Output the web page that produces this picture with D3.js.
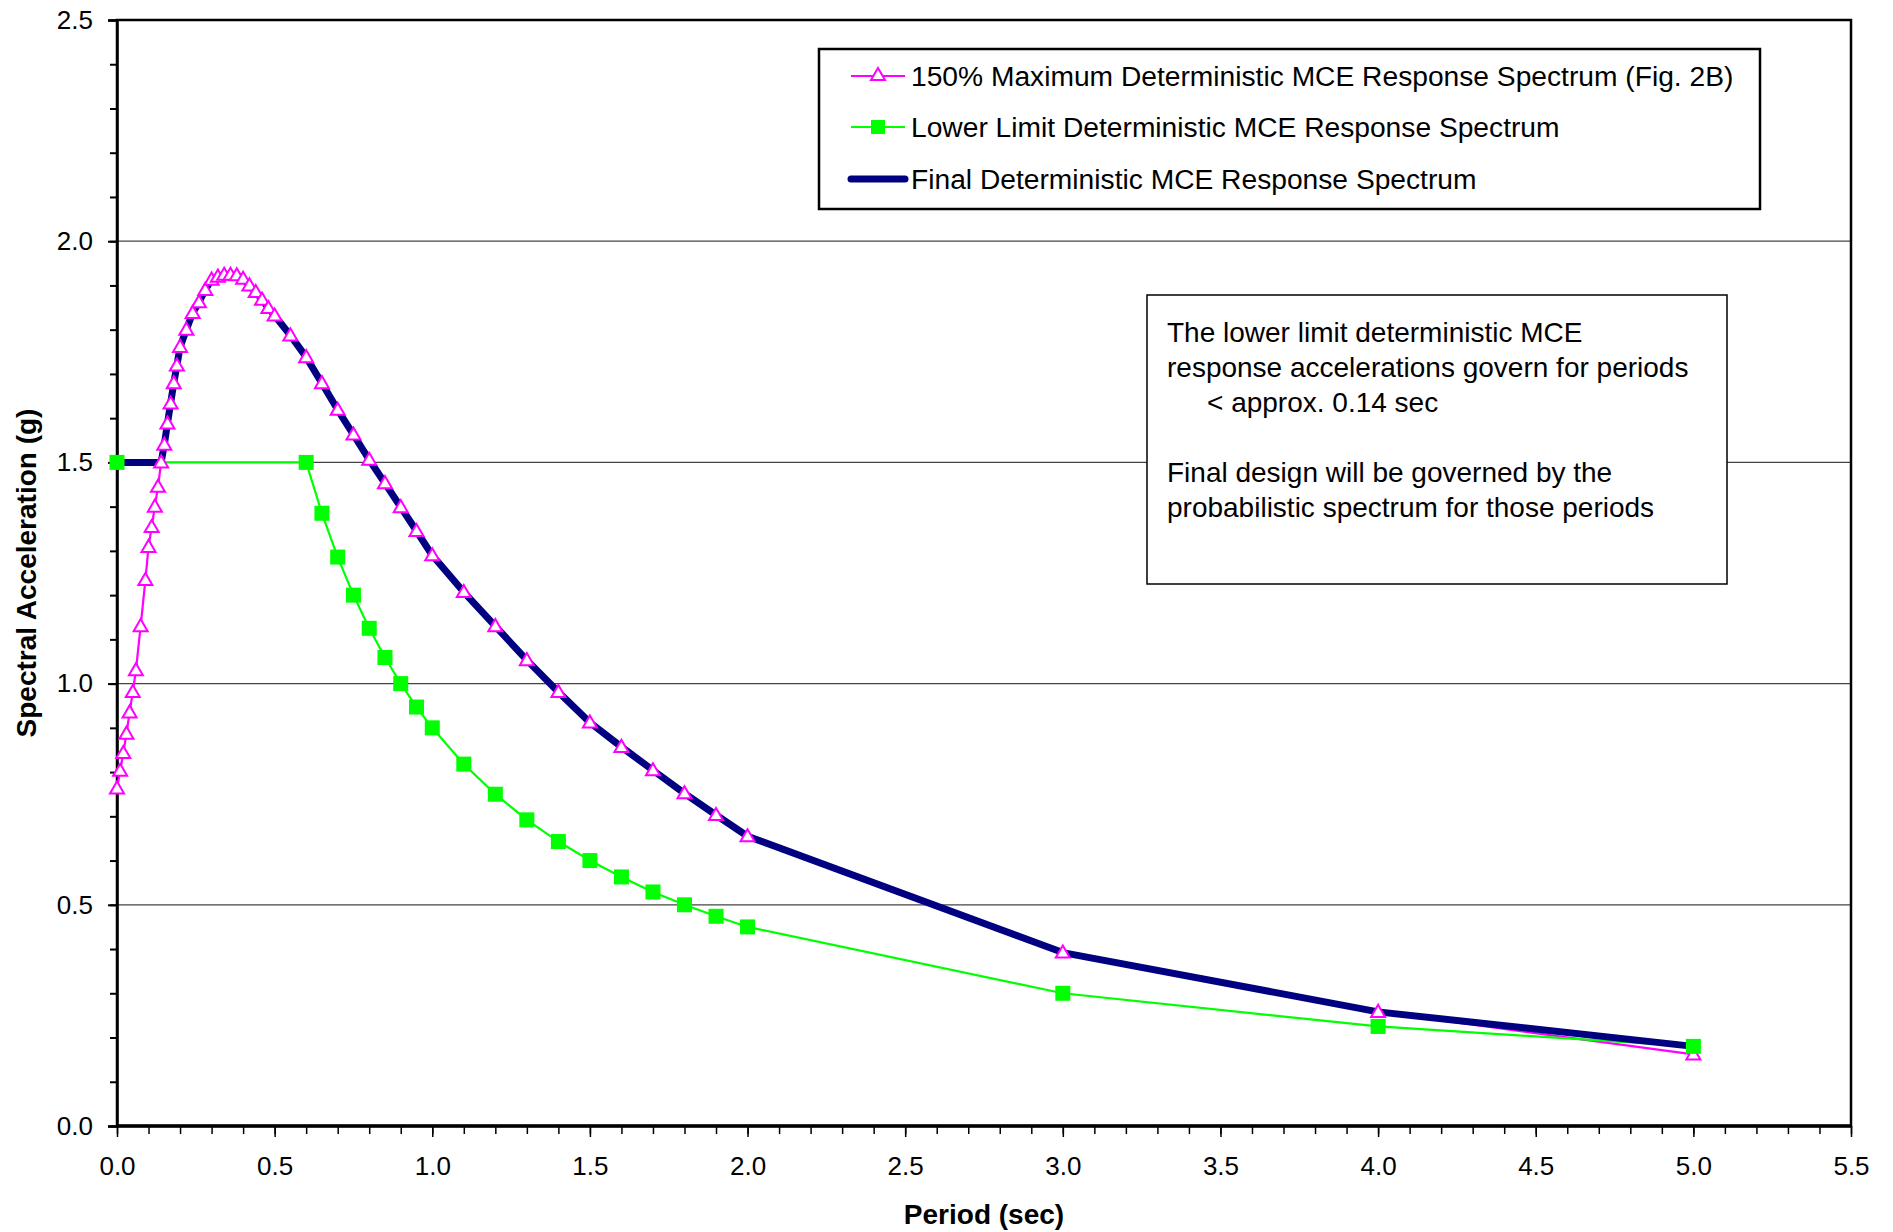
<!DOCTYPE html>
<html>
<head>
    <script src="https://cdn.jsdelivr.net/npm/d3@7"></script>
    <style>
        body { margin: 0; background: #fff; }
        #my-svg { width: 1893px; height: 1232px; font-family: "Liberation Sans", Arial, sans-serif; }
    </style>
</head>
<body>

<svg id="my-svg"></svg>

<script>
    // 150% Maximum Deterministic MCE Response Spectrum (Fig. 2B)
    const maxT = [0, 0.01, 0.02, 0.03, 0.04, 0.05, 0.06, 0.075, 0.09, 0.10, 0.11, 0.12, 0.13, 0.14, 0.15, 0.16, 0.17, 0.18, 0.19, 0.20,
        0.22, 0.24, 0.26, 0.28, 0.30, 0.32, 0.34, 0.36, 0.38, 0.40, 0.42, 0.44, 0.46, 0.48, 0.50,
        0.55, 0.60, 0.65, 0.70, 0.75, 0.80, 0.85, 0.90, 0.95, 1.0,
        1.1, 1.2, 1.3, 1.4, 1.5, 1.6, 1.7, 1.8, 1.9, 2.0, 3.0, 4.0, 5.0];
    const maxSa = [0.763, 0.803, 0.843, 0.887, 0.935, 0.981, 1.03, 1.13, 1.234, 1.309, 1.354, 1.40, 1.445, 1.50, 1.54, 1.588, 1.633, 1.679, 1.719, 1.761,
        1.80, 1.838, 1.862, 1.89, 1.913, 1.92, 1.924, 1.924, 1.923, 1.915, 1.90, 1.885, 1.868, 1.849, 1.832,
        1.787, 1.738, 1.679, 1.619, 1.563, 1.506, 1.453, 1.399, 1.345, 1.29,
        1.207, 1.13, 1.053, 0.981, 0.912, 0.857, 0.804, 0.752, 0.703, 0.655, 0.392, 0.258, 0.162];

    // Lower Limit Deterministic MCE Response Spectrum
    const lowT = [0, 0.6, 0.65, 0.7, 0.75, 0.8, 0.85, 0.9, 0.95, 1.0, 1.1, 1.2, 1.3, 1.4, 1.5, 1.6, 1.7, 1.8, 1.9, 2.0, 3.0, 4.0, 5.0];
    const lowSa = [1.5, 1.5, 1.385, 1.286, 1.2, 1.125, 1.059, 1.0, 0.947, 0.9, 0.818, 0.75, 0.692, 0.643, 0.6, 0.563, 0.529, 0.5, 0.474, 0.45, 0.3, 0.225, 0.18];

    // Final Deterministic MCE Response Spectrum
    const finalT = [0, 0.14, 0.15, 0.16, 0.17, 0.18, 0.19, 0.20,
        0.22, 0.24, 0.26, 0.28, 0.30, 0.32, 0.34, 0.36, 0.38, 0.40, 0.42, 0.44, 0.46, 0.48, 0.50,
        0.55, 0.60, 0.65, 0.70, 0.75, 0.80, 0.85, 0.90, 0.95, 1.0,
        1.1, 1.2, 1.3, 1.4, 1.5, 1.6, 1.7, 1.8, 1.9, 2.0, 3.0, 4.0, 5.0];
    const finalSa = [1.5, 1.5, 1.54, 1.588, 1.633, 1.679, 1.719, 1.761,
        1.80, 1.838, 1.862, 1.89, 1.913, 1.92, 1.924, 1.924, 1.923, 1.915, 1.90, 1.885, 1.868, 1.849, 1.832,
        1.787, 1.738, 1.679, 1.619, 1.563, 1.506, 1.453, 1.399, 1.345, 1.29,
        1.207, 1.13, 1.053, 0.981, 0.912, 0.857, 0.804, 0.752, 0.703, 0.655, 0.392, 0.258, 0.18];

    const xTicks = [0, 0.5, 1.0, 1.5, 2.0, 2.5, 3.0, 3.5, 4.0, 4.5, 5.0, 5.5];
    const yTicks = [0, 0.5, 1.0, 1.5, 2.0, 2.5];
    const legendLabels = [
        "150% Maximum Deterministic MCE Response Spectrum (Fig. 2B)",
        "Lower Limit Deterministic MCE Response Spectrum",
        "Final Deterministic MCE Response Spectrum"
    ];
    const noteLines = [
        "The lower limit deterministic MCE",
        "response accelerations govern for periods",
        "< approx. 0.14 sec",
        "",
        "Final design will be governed by the",
        "probabilistic spectrum for those periods"
    ];

    const plotLeft = 117, plotRight = 1851, plotTop = 20, plotBottom = 1126;
    const pink = "#ff00ff", green = "#00ff00", navy = "#000080";

    const svg = d3.select("#my-svg");
    const x = d3.scaleLinear().domain([0, 5.5]).range([plotLeft, plotRight]);
    const y = d3.scaleLinear().domain([0, 2.5]).range([plotBottom, plotTop]);

    const zip = (a, b) => a.map((t, i) => [t, b[i]]);
    const maxData = zip(maxT, maxSa);
    const lowData = zip(lowT, lowSa);
    const finalData = zip(finalT, finalSa);

    // gridlines
    svg.append("g").selectAll("line")
        .data(yTicks.filter(d => d > 0 && d < 2.5))
        .join("line")
        .attr("x1", plotLeft).attr("x2", plotRight)
        .attr("y1", d => y(d)).attr("y2", d => y(d))
        .attr("stroke", "#444").attr("stroke-width", 1.2);

    // minor ticks
    svg.append("g").attr("transform", `translate(${plotLeft},0)`)
        .call(d3.axisLeft(y).tickValues(d3.range(0, 26).map(i => i / 10)).tickSize(7).tickFormat(""))
        .call(g => g.select(".domain").remove())
        .selectAll("line").attr("stroke-width", 2);
    svg.append("g").attr("transform", `translate(0,${plotBottom})`)
        .call(d3.axisBottom(x).tickValues(d3.range(0, 56).map(i => i / 10)).tickSize(8).tickFormat(""))
        .call(g => g.select(".domain").remove())
        .selectAll("line").attr("stroke-width", 1.5);

    // major axes
    const yAxis = svg.append("g").attr("transform", `translate(${plotLeft},0)`)
        .call(d3.axisLeft(y).tickValues(yTicks).tickSize(9).tickPadding(15).tickFormat(d3.format(".1f")));
    yAxis.select(".domain").attr("stroke-width", 2.5);
    yAxis.selectAll("line").attr("stroke-width", 2);
    yAxis.selectAll("text").attr("font-size", 26).attr("font-family", "Liberation Sans, Arial").attr("fill", "#000");

    const xAxis = svg.append("g").attr("transform", `translate(0,${plotBottom})`)
        .call(d3.axisBottom(x).tickValues(xTicks).tickSize(11).tickPadding(20).tickFormat(d3.format(".1f")));
    xAxis.select(".domain").remove();
    xAxis.selectAll("line").attr("stroke-width", 1.5);
    xAxis.selectAll("text").attr("font-size", 26).attr("font-family", "Liberation Sans, Arial").attr("fill", "#000");

    // plot frame
    svg.append("rect").attr("x", plotLeft).attr("y", plotTop).attr("width", plotRight - plotLeft).attr("height", plotBottom - plotTop)
        .attr("fill", "none").attr("stroke", "#000").attr("stroke-width", 2.5);
    svg.append("line").attr("x1", plotLeft).attr("x2", plotRight).attr("y1", plotBottom).attr("y2", plotBottom)
        .attr("stroke", "#000").attr("stroke-width", 3.5);

    // series lines
    const line = d3.line().x(d => x(d[0])).y(d => y(d[1]));
    svg.append("path").datum(maxData).attr("d", line).attr("fill", "none").attr("stroke", pink).attr("stroke-width", 2.2);
    svg.append("path").datum(lowData).attr("d", line).attr("fill", "none").attr("stroke", green).attr("stroke-width", 2.2);
    svg.append("path").datum(finalData).attr("d", line).attr("fill", "none").attr("stroke", navy).attr("stroke-width", 7)
        .attr("stroke-linejoin", "round");

    // markers
    const tri = d3.symbol().type(d3.symbolTriangle).size(85);
    svg.append("g").selectAll("path")
        .data(maxData)
        .join("path")
        .attr("d", tri)
        .attr("transform", d => `translate(${x(d[0])},${y(d[1]) + 1})`)
        .attr("fill", "#fff").attr("stroke", pink).attr("stroke-width", 2);
    svg.append("g").selectAll("rect")
        .data(lowData)
        .join("rect")
        .attr("x", d => x(d[0]) - 7.5).attr("y", d => y(d[1]) - 7.5)
        .attr("width", 15).attr("height", 15)
        .attr("fill", green);

    // legend
    const lg = svg.append("g");
    lg.append("rect").attr("x", 819).attr("y", 49).attr("width", 941).attr("height", 160)
        .attr("fill", "#fff").attr("stroke", "#000").attr("stroke-width", 2.5);
    const rowY = [76, 127, 179];
    legendLabels.forEach((label, i) => {
        const cy = rowY[i];
        if (i === 0) {
            lg.append("line").attr("x1", 851).attr("x2", 905).attr("y1", cy).attr("y2", cy).attr("stroke", pink).attr("stroke-width", 2.2);
            lg.append("path").attr("d", tri).attr("transform", `translate(878,${cy})`)
                .attr("fill", "#fff").attr("stroke", pink).attr("stroke-width", 2);
        } else if (i === 1) {
            lg.append("line").attr("x1", 851).attr("x2", 905).attr("y1", cy).attr("y2", cy).attr("stroke", green).attr("stroke-width", 2.2);
            lg.append("rect").attr("x", 871).attr("y", cy - 7).attr("width", 14).attr("height", 14).attr("fill", green);
        } else {
            lg.append("line").attr("x1", 851).attr("x2", 905).attr("y1", cy).attr("y2", cy).attr("stroke", navy)
                .attr("stroke-width", 7).attr("stroke-linecap", "round");
        }
        lg.append("text").attr("x", 911).attr("y", cy).attr("dy", "0.35em")
            .attr("font-size", 28.2).text(label);
    });

    // note box
    const nb = svg.append("g");
    nb.append("rect").attr("x", 1147).attr("y", 295).attr("width", 580).attr("height", 289)
        .attr("fill", "#fff").attr("stroke", "#000").attr("stroke-width", 1.5);
    nb.append("text").attr("font-size", 28)
        .selectAll("tspan")
        .data(noteLines)
        .join("tspan")
        .attr("x", (d, i) => i === 2 ? 1207 : 1167)
        .attr("y", (d, i) => 342 + i * 35)
        .text(d => d);

    // axis titles
    svg.append("text").attr("x", (plotLeft + plotRight) / 2).attr("y", 1224)
        .attr("text-anchor", "middle").attr("font-size", 28).attr("font-weight", "bold")
        .text("Period (sec)");
    svg.append("text").attr("transform", `translate(36,${(plotTop + plotBottom) / 2}) rotate(-90)`)
        .attr("text-anchor", "middle").attr("font-size", 28).attr("font-weight", "bold")
        .text("Spectral Acceleration (g)");
</script>
</body>
</html>
